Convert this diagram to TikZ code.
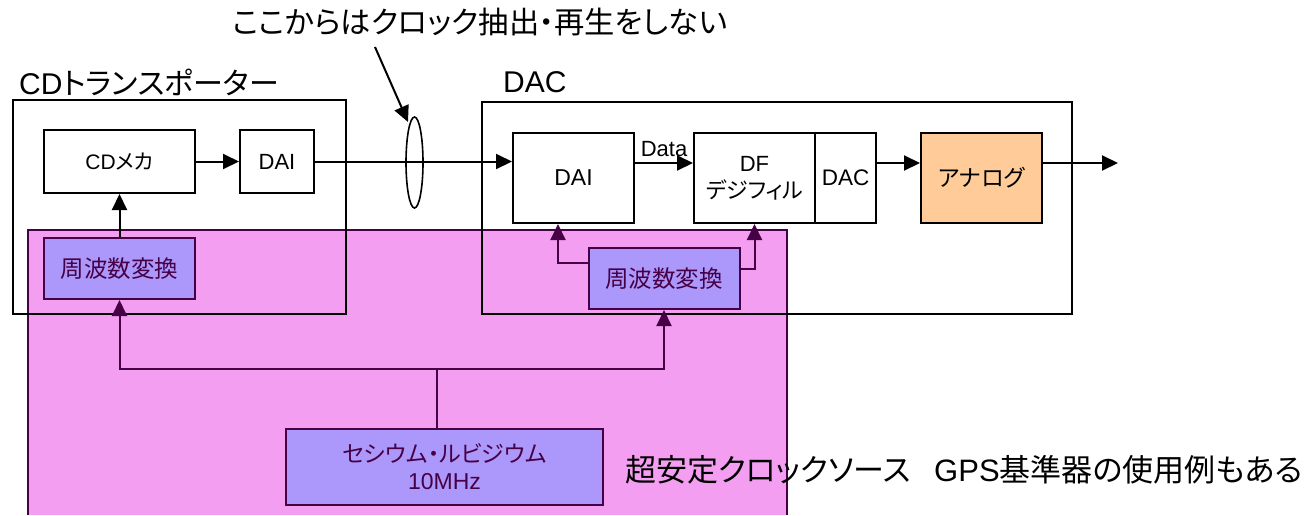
\documentclass[tikz,border=0pt]{standalone}
\usepackage{fontspec}
\setmainfont{Liberation Sans}
\newfontfamily\jp[RawFeature={+palt}]{Noto Sans CJK JP}
\usetikzlibrary{arrows.meta,patterns,shapes.geometric}
\definecolor{pinkbg}{RGB}{244,158,242}
\definecolor{purplebox}{RGB}{172,152,250}
\definecolor{dkp}{RGB}{70,0,70}
\definecolor{peach}{RGB}{255,204,153}
\newcommand{\fs}[1]{\fontsize{#1}{#1}\selectfont}
\tikzset{
  arr/.style={-{Triangle[length=16pt,width=15pt]}, line width=2pt},
  blk/.style={draw=black, line width=2pt, fill=white, inner sep=0pt, align=center, font=\fs{23}},
  fcbox/.style={draw=dkp, line width=2pt, fill=purplebox, inner sep=0pt, align=center, text=dkp, font=\fs{23.5}\jp},
  frame/.style={draw=black, line width=1.8pt},
  lbl/.style={inner sep=0pt},
}
\begin{document}
\begin{tikzpicture}[x=1pt,y=-1pt]
\useasboundingbox (0,0) rectangle (1305,515);
% pink clock area
\fill[pinkbg] (28,230) rectangle (787,515);
\draw[dkp, line width=1.8pt] (28,515) -- (28,230) -- (787,230) -- (787,515);
% outer frames
\draw[frame] (13,100) rectangle (346,314);
\draw[frame] (482,102) rectangle (1072,314);
% labels
\node[lbl, anchor=center, font=\fs{30.3}\jp] (toptext) at (480,22) {ここからはクロック抽出・再生をしない};
\node[lbl, anchor=west, font=\fs{30}] (cdtlabel) at (19,82) {CD{\jp トランスポーター}};
\node[lbl, anchor=west, font=\fs{30}] (daclabel) at (503,82) {DAC};
\node[lbl, anchor=west, font=\fs{31}\jp] (srclabel) at (625,470) {超安定クロックソース\hspace{0.75em}{\rmfamily GPS}基準器の使用例もある};
% transport
\node[blk, minimum width=151pt, minimum height=63pt, font=\fs{21}] (cdmeka) at (119.5,161.5) {CD{\jp メカ}};
\node[blk, minimum width=74pt, minimum height=63pt, font=\fs{22}] (dai1) at (277,161.5) {DAI};
% DAC internals
\node[blk, minimum width=121pt, minimum height=90pt] (dai2) at (573.5,178) {DAI};
\node[blk, minimum width=121pt, minimum height=90pt, font=\fontsize{22}{27}\selectfont] (df) at (754.5,178) {DF\\{\jp デジフィル}};
\node[blk, minimum width=61pt, minimum height=90pt, font=\fs{22.5}] (dacb) at (845.5,178) {DAC};
\node[blk, fill=peach, minimum width=121pt, minimum height=90pt, font=\fs{23}\jp] (analog) at (981.5,178) {アナログ};
% frequency converters & source
\node[fcbox, minimum width=151pt, minimum height=61pt] (fc1) at (119.5,268.5) {周波数変換};
\node[fcbox, minimum width=151pt, minimum height=61pt] (fc2) at (664,278.5) {周波数変換};
\node[fcbox, minimum width=317pt, minimum height=76pt, font=\fontsize{23}{27}\selectfont\jp] (src) at (444.5,467) {セシウム・ルビジウム\\{\rmfamily 10MHz}};
% signal path
\draw[arr] (cdmeka.east) -- (dai1.west);
\draw[arr] (dai1.east) -- (dai1.east -| dai2.west);
\node[ellipse, draw, line width=1.6pt, minimum width=17pt, minimum height=91pt, inner sep=0pt] (ell) at (414.5,162.5) {};
\coordinate (calloutstart) at (375,47);
\coordinate (callouttip) at (408,122);
\draw[arr] (calloutstart) -- (callouttip);
\draw[arr] ([yshift=15pt]dai2.east) -- ([yshift=15pt]df.west) node[midway, above=2pt, font=\fs{22}] (datalabel) {Data};
\draw[arr] ([yshift=15pt]dacb.east) -- ([yshift=15pt]analog.west);
\coordinate (out) at (1118,163);
\draw[arr] ([yshift=15pt]analog.east) -- (out);
% clock paths
\draw[arr] (fc1.north) -- (cdmeka.south);
\draw[arr, dkp] ([yshift=15.5pt]fc2.west) -| ([xshift=-15.5pt]dai2.south);
\draw[arr, dkp] ([yshift=9.5pt]fc2.east) -| (df.south);
\coordinate (junction) at (437,369);
\draw[dkp, line width=2pt] ([xshift=-7.5pt]src.north) -- (junction);
\draw[arr, dkp] (junction) -| (fc1.south);
\draw[arr, dkp] (junction) -| (fc2.south);
\end{tikzpicture}
\end{document}
